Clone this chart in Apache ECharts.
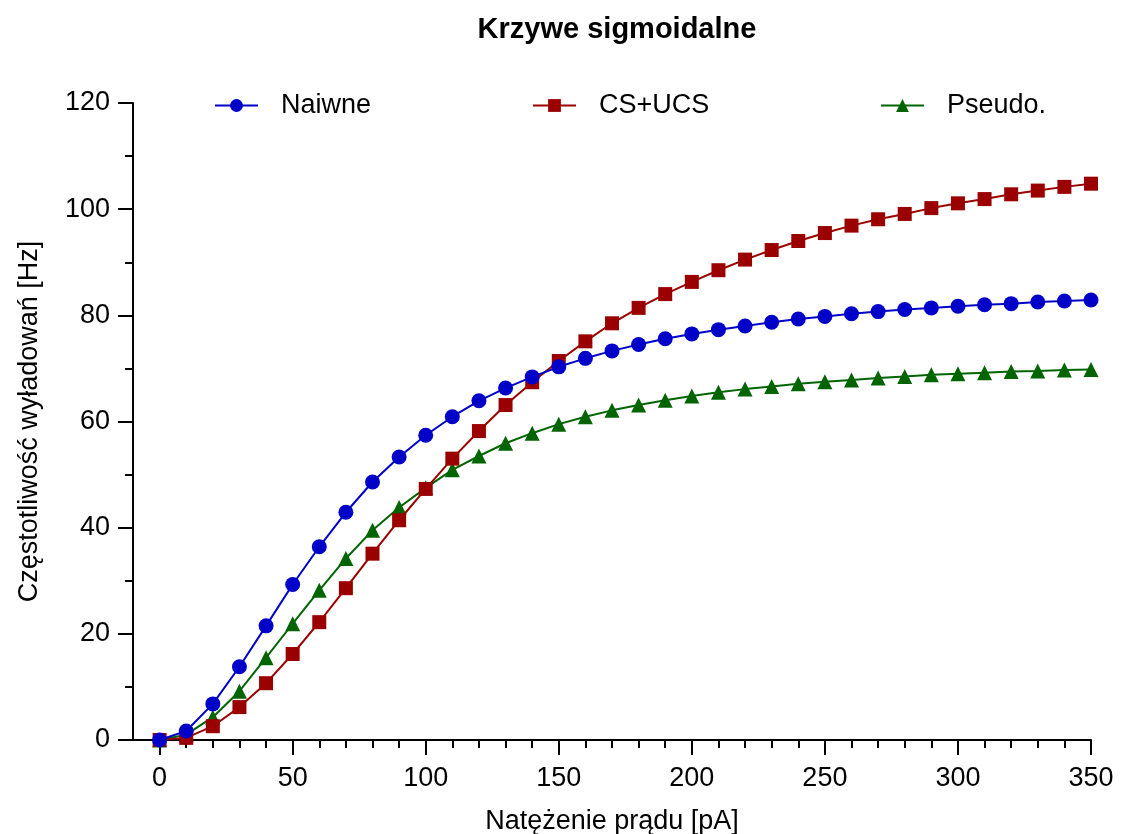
<!DOCTYPE html>
<html>
<head>
<meta charset="utf-8">
<script src="https://cdn.jsdelivr.net/npm/echarts@6/dist/echarts.min.js"></script>
<style>
  html, body { margin: 0; padding: 0; background: #fff; }
  #chart { width: 1125px; height: 834px; }
</style>
</head>
<body>
<div id="chart"></div>
<script>
// Stimulus current steps [pA]
const current = [0, 10, 20, 30, 40, 50, 60, 70, 80, 90, 100, 110, 120, 130, 140, 150, 160, 170,
  180, 190, 200, 210, 220, 230, 240, 250, 260, 270, 280, 290, 300, 310, 320, 330, 340, 350];

// Firing rate [Hz] per group
const naiwne = [0, 1.7, 6.8, 13.8, 21.5, 29.3, 36.4, 42.9, 48.6, 53.3, 57.4, 60.9, 63.9, 66.3, 68.4,
  70.3, 71.9, 73.3, 74.5, 75.6, 76.5, 77.3, 78.0, 78.7, 79.3, 79.8, 80.3, 80.7, 81.1, 81.4, 81.7,
  82.0, 82.2, 82.5, 82.7, 82.9];
const csUcs = [0, 0.4, 2.6, 6.2, 10.7, 16.2, 22.2, 28.6, 35.1, 41.4, 47.3, 53.0, 58.2, 63.1, 67.4,
  71.4, 75.1, 78.5, 81.4, 84.0, 86.3, 88.5, 90.5, 92.3, 94.0, 95.5, 96.9, 98.1, 99.1, 100.2, 101.1,
  101.9, 102.8, 103.5, 104.2, 104.8];
const pseudo = [0, 1.0, 4.3, 9.2, 15.5, 21.9, 28.2, 34.2, 39.5, 43.8, 47.5, 50.9, 53.5, 55.9, 57.8,
  59.5, 60.9, 62.1, 63.1, 64.0, 64.8, 65.5, 66.1, 66.6, 67.1, 67.5, 67.8, 68.2, 68.5, 68.8, 69.0,
  69.2, 69.4, 69.5, 69.7, 69.8];

const xMajorTicks = [0, 50, 100, 150, 200, 250, 300, 350];
const xMinorTicks = [10, 20, 30, 40, 60, 70, 80, 90, 110, 120, 130, 140, 160, 170, 180, 190, 210, 220,
  230, 240, 260, 270, 280, 290, 310, 320, 330, 340];

const FONT = '"Liberation Sans", Arial, sans-serif';
const BLUE = '#0000c8';
const RED = '#9b0000';
const GREEN = '#006400';

const pairs = ys => current.map((x, i) => [x, ys[i]]);

function makeSeries(name, ys, color, symbol, size, z) {
  return {
    name: name,
    type: 'line',
    data: pairs(ys),
    symbol: symbol,
    symbolSize: size,
    z: z,
    lineStyle: { color: color, width: 2 },
    itemStyle: { color: color, opacity: 1 },
    emphasis: { disabled: true },
    animation: false
  };
}

function makeLegend(name, left) {
  return {
    data: [name],
    left: left,
    top: 87,
    itemWidth: 43,
    itemHeight: 16,
    textStyle: { fontFamily: FONT, fontSize: 27, color: '#000', padding: [0, 0, 0, 18] }
  };
}

const chart = echarts.init(document.getElementById('chart'), null, { renderer: 'canvas' });
chart.setOption({
  backgroundColor: '#fff',
  animation: false,
  title: {
    text: 'Krzywe sigmoidalne',
    left: 612,
    textAlign: 'center',
    top: 10,
    textStyle: { fontFamily: FONT, fontSize: 29, fontWeight: 'bold', color: '#000' }
  },
  legend: [
    makeLegend('Naiwne', 209),
    makeLegend('CS+UCS', 527),
    makeLegend('Pseudo.', 875)
  ],
  grid: { left: 133, right: 34, top: 103, bottom: 94, containLabel: false, outerBoundsMode: 'none' },
  xAxis: [{
    type: 'value',
    min: -10,
    max: 350,
    name: 'Natężenie prądu [pA]',
    nameLocation: 'middle',
    nameGap: 68,
    nameTextStyle: { fontFamily: FONT, fontSize: 27, color: '#000' },
    axisLine: { show: true, onZero: false, lineStyle: { color: '#000', width: 2 } },
    axisTick: { show: true, customValues: xMajorTicks, length: 15, lineStyle: { color: '#000', width: 2 } },
    axisLabel: { customValues: xMajorTicks, margin: 25, fontFamily: FONT, fontSize: 27, color: '#000' },
    splitLine: { show: false }
  }, {
    type: 'value',
    min: -10,
    max: 350,
    position: 'bottom',
    axisLine: { show: false },
    axisTick: { show: true, customValues: xMinorTicks, length: 8, lineStyle: { color: '#000', width: 2 } },
    axisLabel: { show: false },
    splitLine: { show: false }
  }],
  yAxis: {
    type: 'value',
    min: 0,
    max: 120,
    interval: 20,
    name: 'Częstotliwość wyładowań [Hz]',
    nameLocation: 'middle',
    nameGap: 90,
    nameTextStyle: { fontFamily: FONT, fontSize: 27, color: '#000' },
    axisLine: { show: true, onZero: false, lineStyle: { color: '#000', width: 2 } },
    axisTick: { show: true, length: 15, lineStyle: { color: '#000', width: 2 } },
    minorTick: { show: true, splitNumber: 2, length: 8, lineStyle: { color: '#000', width: 2 } },
    axisLabel: { margin: 23, fontFamily: FONT, fontSize: 27, color: '#000' },
    splitLine: { show: false },
    minorSplitLine: { show: false }
  },
  series: [
    makeSeries('Naiwne', naiwne, BLUE, 'circle', 15, 4),
    makeSeries('CS+UCS', csUcs, RED, 'rect', 14, 3),
    makeSeries('Pseudo.', pseudo, GREEN, 'triangle', 15, 2)
  ]
});
</script>
</body>
</html>
